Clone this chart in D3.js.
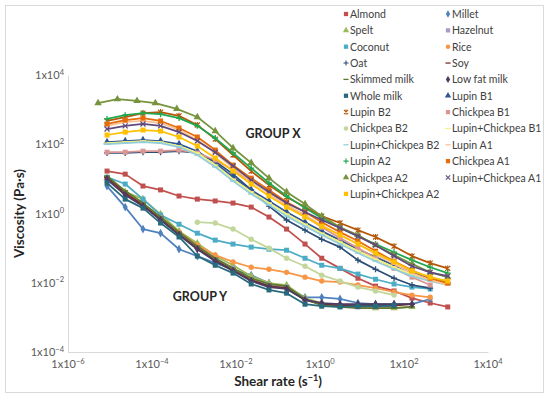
<!DOCTYPE html>
<html>
<head>
<meta charset="utf-8">
<script src="https://cdn.jsdelivr.net/npm/d3@7"></script>
<style>
  body { margin: 0; background: #fff; }
  svg { font-family: Lato, "Open Sans", sans-serif; }
</style>
</head>
<body>
<svg id="chart" width="550" height="398"></svg>
<script>
// Shear rates (1/s).
const shearRate = [8.5e-6, 2.3e-5, 6.1e-5, 1.6e-4, 4.4e-4, 1.2e-3, 3.2e-3, 8.5e-3, 0.023, 0.061,
                   0.16, 0.44, 1.1, 3.0, 8.0, 21, 58, 155, 420, 1100];
const shearRateA2 = [5.2e-6, 1.5e-5, 4.4e-5, 1.2e-4, 3.9e-4, 1.2e-3, 3.2e-3, 8.5e-3, 0.023, 0.061,
                     0.16, 0.44, 1.1, 3.0, 8.0, 21, 58, 155, 420, 1100];
const shearRateB2 = [1.2e-3, 3.2e-3, 8.5e-3, 0.023, 0.061, 0.16, 0.44, 1.1, 3.0, 8.0, 21, 58];

// Viscosity (Pa·s) per sample.
const almond = [16.8, 13.7, 6.2, 4.8, 3.2, 2.6, 2.3, 2.0, 1.53, 0.79, 0.355, 0.131, 0.051, 0.026, 0.0135, 0.008, 0.0058, 0.0036, 0.0026, 0.002];
const millet = [6.2, 1.53, 0.355, 0.27, 0.093, 0.059, 0.037, 0.0245, 0.0166, 0.0098, 0.0075, 0.0038, 0.0038, 0.0034, 0.0026, 0.0024, 0.0024, 0.0024, 0.0034];
const spelt = [10.5, 4.2, 2.6, 0.96, 0.31, 0.139, 0.059, 0.032, 0.0155, 0.0098, 0.0086, 0.0036, 0.0026, 0.0021, 0.002, 0.00185, 0.00185, 0.002];
const hazelnut = [9.2, 3.65, 1.87, 0.74, 0.27, 0.114, 0.051, 0.026, 0.0126, 0.0086, 0.0075, 0.0032, 0.0024, 0.0021, 0.002, 0.002, 0.0021];
const coconut = [11.2, 7.1, 2.6, 0.9, 0.49, 0.27, 0.17, 0.131, 0.107, 0.093, 0.087, 0.051, 0.032, 0.026, 0.0178, 0.0126, 0.0092, 0.0075, 0.0066];
const rice = [10.5, 3.9, 1.75, 0.74, 0.29, 0.122, 0.063, 0.04, 0.028, 0.0245, 0.02, 0.0145, 0.0112, 0.0105, 0.0086, 0.007, 0.0054, 0.0044, 0.0038];
const oat = [56, 56, 59, 59, 63, 56, 32, 13.7, 4.8, 1.63, 0.65, 0.33, 0.18, 0.107, 0.045, 0.0245, 0.0135, 0.0086, 0.007];
const soy = [11.2, 3.9, 1.75, 0.69, 0.25, 0.1, 0.045, 0.023, 0.012, 0.008, 0.007, 0.0032, 0.0024, 0.0022, 0.0022, 0.0022, 0.0022, 0.0024];
const skimmedMilk = [12.0, 4.5, 2.0, 0.79, 0.29, 0.114, 0.051, 0.026, 0.0135, 0.0092, 0.008, 0.0034, 0.0022, 0.002, 0.00185, 0.00185, 0.00185, 0.002];
const lowFatMilk = [9.8, 3.4, 1.63, 0.65, 0.24, 0.093, 0.042, 0.022, 0.0112, 0.0075, 0.0066, 0.0032, 0.0026, 0.0024, 0.0024, 0.0024, 0.0024, 0.0024];
const wholeMilk = [7.6, 2.6, 1.43, 0.53, 0.21, 0.059, 0.032, 0.019, 0.0092, 0.0062, 0.005, 0.0024, 0.0021, 0.002, 0.0021, 0.0021, 0.0022];
const lupinB1 = [116, 124, 132, 124, 101, 63, 29, 11.2, 4.8, 2.3, 1.1, 0.56, 0.31, 0.17, 0.093, 0.055, 0.032, 0.02, 0.0135, 0.0105];
const lupinB2 = [470, 610, 790, 850, 660, 360, 141, 49, 16.8, 6.6, 3.0, 1.53, 0.84, 0.53, 0.33, 0.21, 0.114, 0.059, 0.037, 0.026];
const chickpeaB1 = [59, 59, 63, 63, 68, 56, 35, 18, 8.6, 3.9, 1.75, 0.84, 0.4, 0.195, 0.1, 0.051, 0.026, 0.0145, 0.0086];
const chickpeaB2 = [0.56, 0.53, 0.355, 0.18, 0.1, 0.051, 0.03, 0.0166, 0.0112, 0.0075, 0.0058, 0.0044];
const lupinChickpeaB1 = [108, 116, 124, 116, 89, 56, 25, 9.8, 4.2, 2.0, 0.96, 0.49, 0.27, 0.149, 0.082, 0.048, 0.028, 0.0166, 0.012, 0.0092];
const lupinChickpeaB2 = [101, 108, 116, 108, 83, 49, 22, 8.6, 3.65, 1.75, 0.84, 0.43, 0.24, 0.131, 0.072, 0.042, 0.0245, 0.0155, 0.0112, 0.0086];
const lupinA1 = [340, 440, 470, 410, 257, 132, 56, 20.5, 8.6, 3.9, 1.75, 0.9, 0.46, 0.24, 0.131, 0.067, 0.035, 0.019, 0.012, 0.0086];
const lupinA2 = [540, 690, 790, 740, 570, 340, 151, 56, 20.5, 7.6, 3.2, 1.43, 0.74, 0.38, 0.22, 0.131, 0.076, 0.045, 0.028, 0.019];
const chickpeaA1 = [385, 500, 570, 470, 295, 162, 68, 25, 10.5, 4.8, 2.15, 1.1, 0.56, 0.29, 0.16, 0.082, 0.042, 0.023, 0.0135, 0.0098];
const chickpeaA2 = [1550, 2000, 1800, 1550, 1050, 610, 240, 78, 29, 10.5, 4.2, 1.87, 0.84, 0.4, 0.24, 0.122, 0.063, 0.035, 0.02, 0.0145];
const lupinChickpeaA1 = [275, 340, 385, 340, 225, 124, 59, 23.5, 9.2, 4.2, 2.0, 1.1, 0.65, 0.38, 0.22, 0.122, 0.059, 0.03, 0.02, 0.0155];
const lupinChickpeaA2 = [185, 225, 257, 240, 162, 89, 40, 16.8, 7.1, 3.2, 1.53, 0.79, 0.43, 0.24, 0.131, 0.072, 0.04, 0.022, 0.0145, 0.0112];

const seriesNames = ['Almond', 'Millet', 'Spelt', 'Hazelnut', 'Coconut', 'Rice', 'Oat', 'Soy',
  'Skimmed milk', 'Low fat milk', 'Whole milk', 'Lupin B1', 'Lupin B2', 'Chickpea B1', 'Chickpea B2',
  'Lupin+Chickpea B1', 'Lupin+Chickpea B2', 'Lupin A1', 'Lupin A2', 'Chickpea A1', 'Chickpea A2',
  'Lupin+Chickpea A1', 'Lupin+Chickpea A2'];
const seriesValues = [almond, millet, spelt, hazelnut, coconut, rice, oat, soy, skimmedMilk, lowFatMilk,
  wholeMilk, lupinB1, lupinB2, chickpeaB1, chickpeaB2, lupinChickpeaB1, lupinChickpeaB2, lupinA1, lupinA2,
  chickpeaA1, chickpeaA2, lupinChickpeaA1, lupinChickpeaA2];
const seriesRates = seriesValues.map((v, i) =>
  i === 20 ? shearRateA2 : (i === 14 ? shearRateB2 : shearRate));

const xTickExps = [-6, -4, -2, 0, 2, 4];
const yTickExps = [-4, -2, 0, 2, 4];

// Styles.
const colors = ['#c0504d', '#4f81bd', '#9bbb59', '#a99bc6', '#4bacc6', '#f79646', '#2c4d75', '#772c2a',
  '#5f7530', '#4d3b62', '#276a7c', '#2f5597', '#b65708', '#d99694', '#c3d69b', '#f2f27a', '#93cddd',
  '#fac090', '#1fa84f', '#e46c0a', '#77933c', '#604a7b', '#ffc000'];
const markers = ['square', 'diamond', 'triangle', 'square', 'square', 'circle', 'plus', 'dash',
  'dash', 'diamond', 'square', 'triangle', 'star', 'square', 'circle', 'dash', 'dash',
  'dash', 'plus', 'square', 'triangle', 'x', 'square'];

const svg = d3.select('#chart');
const width = 550, height = 398;

svg.append('rect')
  .attr('x', 5.5).attr('y', 5.5).attr('width', width - 12).attr('height', height - 11)
  .attr('fill', '#fff').attr('stroke', '#d9d9d9');

const x = d3.scaleLog().domain([1e-6, 1e4]).range([68, 488]);
const y = d3.scaleLog().domain([1e-4, 1e4]).range([352, 75]);

// Axes.
svg.append('g').attr('transform', `translate(0, ${y(1e-4)})`)
  .call(d3.axisBottom(x).tickValues(xTickExps.map(e => Math.pow(10, e))).tickSize(0).tickFormat(''));
svg.append('g').attr('transform', `translate(${x(1e-6)}, 0)`)
  .call(d3.axisLeft(y).tickValues(yTickExps.map(e => Math.pow(10, e))).tickSize(0).tickFormat(''));
svg.selectAll('.domain').attr('stroke', '#d9d9d9');

function powerLabel(sel, exp) {
  sel.append('tspan').text('1x10');
  sel.append('tspan').attr('dy', -4.5).attr('font-size', 7.5)
    .text(exp < 0 ? '\u2212' + (-exp) : String(exp));
}

xTickExps.forEach(e => {
  svg.append('text').attr('x', x(Math.pow(10, e))).attr('y', 368)
    .attr('text-anchor', 'middle').attr('font-size', 11).attr('fill', '#595959')
    .call(powerLabel, e);
});
yTickExps.forEach(e => {
  svg.append('text').attr('x', 64).attr('y', y(Math.pow(10, e)) + 4)
    .attr('text-anchor', 'end').attr('font-size', 11).attr('fill', '#595959')
    .call(powerLabel, e);
});

// Axis titles.
const xTitle = svg.append('text').attr('x', 278).attr('y', 386)
  .attr('text-anchor', 'middle').attr('font-size', 13.5).attr('font-weight', 'bold').attr('fill', '#262626');
xTitle.append('tspan').text('Shear rate (s');
xTitle.append('tspan').attr('dy', -5).attr('font-size', 9).text('\u22121');
xTitle.append('tspan').attr('dy', 5).text(')');

svg.append('text').attr('transform', `translate(24, ${(y(1e-4) + y(1e4)) / 2}) rotate(-90)`)
  .attr('text-anchor', 'middle').attr('font-size', 13.5).attr('font-weight', 'bold').attr('fill', '#262626')
  .text('Viscosity (Pa\u00b7s)');

// Marker shapes.
function drawMarker(g, type, color) {
  if (type === 'square') {
    g.append('rect').attr('x', -2.5).attr('y', -2.5).attr('width', 5).attr('height', 5).attr('fill', color);
  } else if (type === 'diamond') {
    g.append('path').attr('d', d3.symbol(d3.symbolDiamond, 22)()).attr('fill', color);
  } else if (type === 'triangle') {
    g.append('path').attr('d', d3.symbol(d3.symbolTriangle, 24)()).attr('fill', color);
  } else if (type === 'circle') {
    g.append('circle').attr('r', 2.7).attr('fill', color);
  } else if (type === 'plus') {
    g.append('path').attr('d', 'M-3,0H3M0,-3V3').attr('stroke', color).attr('stroke-width', 1.3);
  } else if (type === 'x') {
    g.append('path').attr('d', 'M-2.5,-2.5L2.5,2.5M-2.5,2.5L2.5,-2.5').attr('stroke', color).attr('stroke-width', 1.3);
  } else if (type === 'star') {
    g.append('path').attr('d', 'M-2.5,-2.5L2.5,2.5M-2.5,2.5L2.5,-2.5M0,-3V3').attr('stroke', color).attr('stroke-width', 1.2);
  } else {
    g.append('path').attr('d', 'M-3,0H3').attr('stroke', color).attr('stroke-width', 1.5);
  }
}

// Lines and markers, in series order.
const line = d3.line().x(d => x(d.rate)).y(d => y(d.value));
seriesValues.forEach((vals, i) => {
  const pts = vals.map((v, k) => ({rate: seriesRates[i][k], value: v}));
  svg.append('path').datum(pts)
    .attr('d', line)
    .attr('fill', 'none')
    .attr('stroke', colors[i])
    .attr('stroke-width', 1.75)
    .attr('stroke-linejoin', 'round');
  pts.forEach(p => {
    svg.append('g').attr('transform', `translate(${x(p.rate)}, ${y(p.value)})`)
      .call(drawMarker, markers[i], colors[i]);
  });
});

// Group labels.
svg.append('text').attr('x', 273).attr('y', 138).attr('text-anchor', 'middle')
  .attr('font-size', 12.5).attr('font-weight', 'bold').attr('fill', '#262626').text('GROUP X');
svg.append('text').attr('x', 200).attr('y', 301).attr('text-anchor', 'middle')
  .attr('font-size', 12.5).attr('font-weight', 'bold').attr('fill', '#262626').text('GROUP Y');

// Legend, two columns.
const legendCols = [346, 448];
seriesNames.forEach((name, i) => {
  const col = i % 2, row = Math.floor(i / 2);
  const g = svg.append('g').attr('transform', `translate(${legendCols[col]}, ${14 + row * 16.35})`);
  g.append('g').attr('transform', 'scale(0.85)').call(drawMarker, markers[i], colors[i]);
  g.append('text').attr('x', 4).attr('y', 4).attr('font-size', 10.5).attr('fill', '#404040').text(name);
});
</script>
</body>
</html>
